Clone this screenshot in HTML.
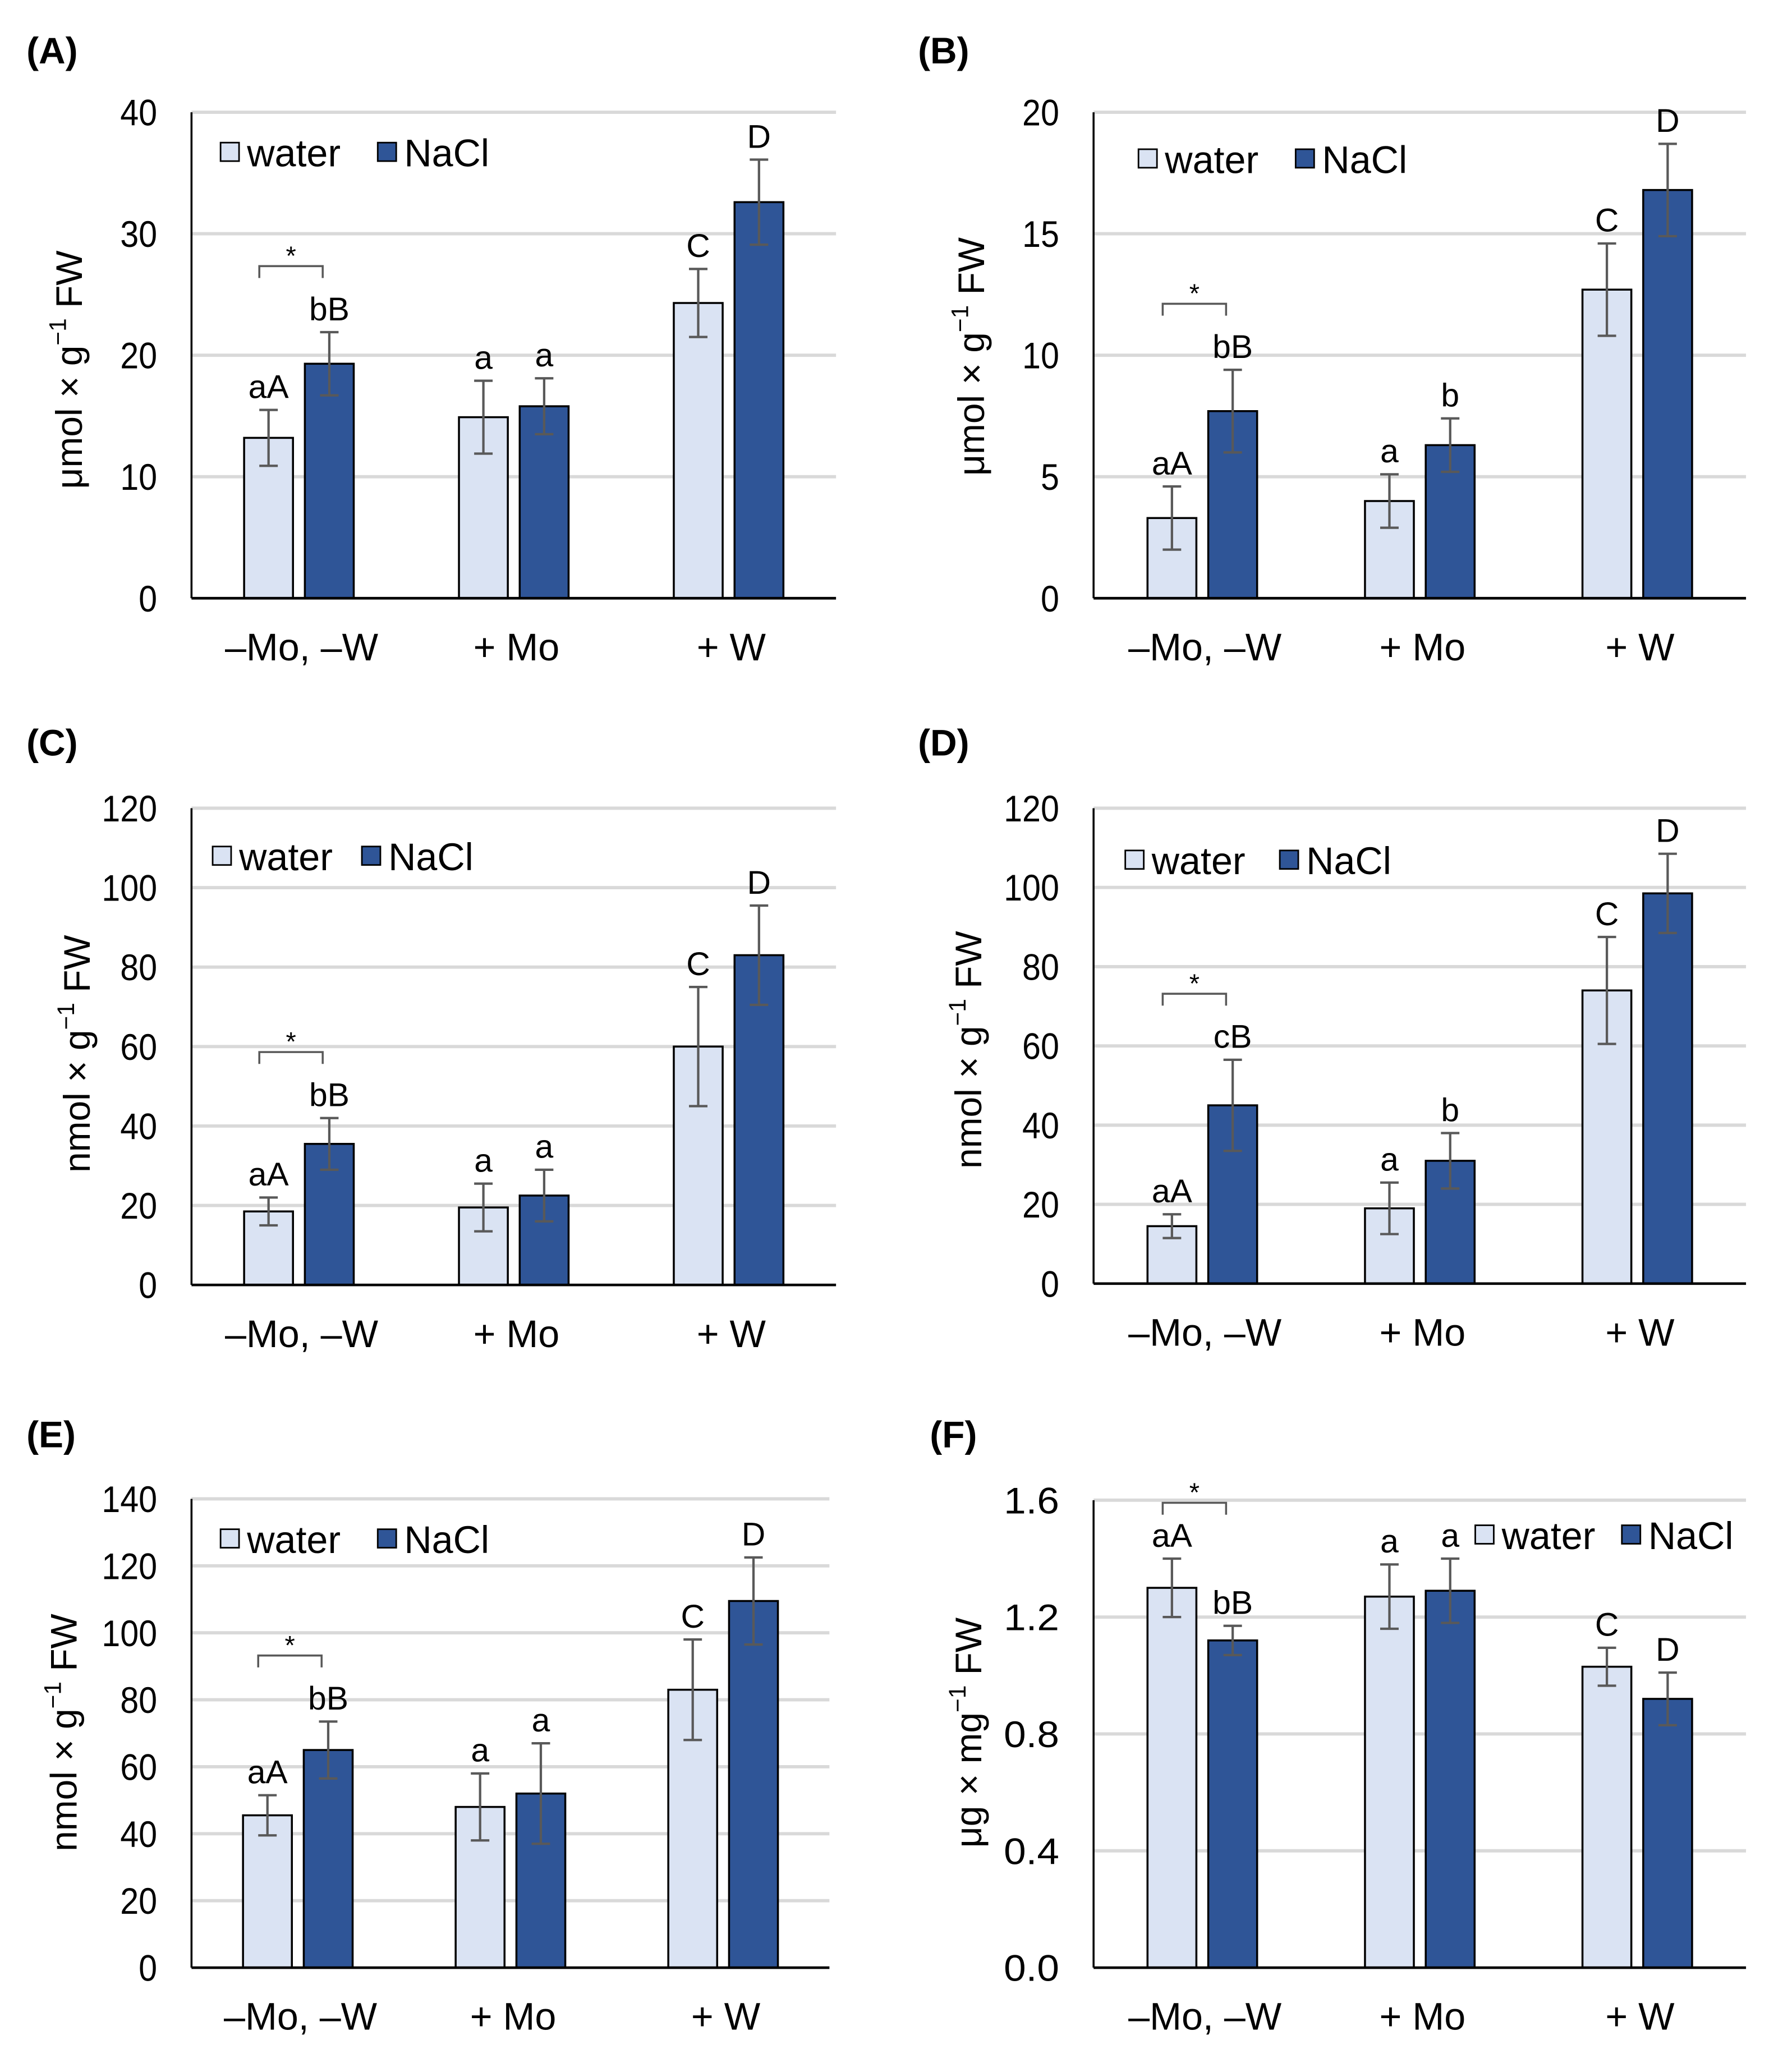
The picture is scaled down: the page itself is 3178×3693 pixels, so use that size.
<!DOCTYPE html>
<html><head><meta charset="utf-8"><style>
html,body{margin:0;padding:0;background:#fff}
svg{display:block}
text{font-family:"Liberation Sans",sans-serif;fill:#000}
</style></head><body>
<svg id="fig" width="3178" height="3693" viewBox="0 0 1350 1569" preserveAspectRatio="none" xmlns="http://www.w3.org/2000/svg"></svg>
<script>
const categories = ["\u2013Mo, \u2013W", "+ Mo", "+ W"];
const aWater = [13.2, 14.9, 24.3], aNaCl = [19.3, 15.8, 32.6];
const aWaterErr = [2.3, 3.0, 2.8], aNaClErr = [2.6, 2.3, 3.5];
const aWaterLbl = ["aA", "a", "C"], aNaClLbl = ["bB", "a", "D"];
const aTicks = [0, 10, 20, 30, 40];
const bWater = [3.3, 4.0, 12.7], bNaCl = [7.7, 6.3, 16.8];
const bWaterErr = [1.3, 1.1, 1.9], bNaClErr = [1.7, 1.1, 1.9];
const bWaterLbl = ["aA", "a", "C"], bNaClLbl = ["bB", "b", "D"];
const bTicks = [0, 5, 10, 15, 20];
const cWater = [18.5, 19.5, 60], cNaCl = [35.5, 22.5, 83];
const cWaterErr = [3.5, 6, 15], cNaClErr = [6.5, 6.5, 12.5];
const cWaterLbl = ["aA", "a", "C"], cNaClLbl = ["bB", "a", "D"];
const cTicks = [0, 20, 40, 60, 80, 100, 120];
const dWater = [14.5, 19, 74], dNaCl = [45, 31, 98.5];
const dWaterErr = [3, 6.5, 13.5], dNaClErr = [11.5, 7, 10];
const dWaterLbl = ["aA", "a", "C"], dNaClLbl = ["cB", "b", "D"];
const dTicks = [0, 20, 40, 60, 80, 100, 120];
const eWater = [45.5, 48, 83], eNaCl = [65, 52, 109.5];
const eWaterErr = [6, 10, 15], eNaClErr = [8.5, 15, 13];
const eWaterLbl = ["aA", "a", "C"], eNaClLbl = ["bB", "a", "D"];
const eTicks = [0, 20, 40, 60, 80, 100, 120, 140];
const fWater = [1.30, 1.27, 1.03], fNaCl = [1.12, 1.29, 0.92];
const fWaterErr = [0.10, 0.11, 0.065], fNaClErr = [0.05, 0.11, 0.09];
const fWaterLbl = ["aA", "a", "C"], fNaClLbl = ["bB", "a", "D"];
const fTicks = ["0.0", "0.4", "0.8", "1.2", "1.6"];

const NS = "http://www.w3.org/2000/svg";
const svg = document.getElementById("fig");
function mk(tag, attrs, parent, txt) {
  const e = document.createElementNS(NS, tag);
  for (const k in attrs) e.setAttribute(k, attrs[k]);
  if (txt !== undefined) e.textContent = txt;
  (parent || svg).appendChild(e);
  return e;
}
const panels = [
  {id:"a", label:"(A)", lx:20, ly:48, x0:145, x1:633, y0:453, y1:85, ticks:aTicks, w:aWater, n:aNaCl, we:aWaterErr, ne:aNaClErr, wl:aWaterLbl, nl:aNaClLbl, yt:"\u03bcmol \u00d7 g", yt2:" FW", ytx:52, yty:280, legX:167, legY:115, legN:286},
  {id:"b", label:"(B)", lx:695, ly:48, x0:828, x1:1322, y0:453, y1:85, ticks:bTicks, w:bWater, n:bNaCl, we:bWaterErr, ne:bNaClErr, wl:bWaterLbl, nl:bNaClLbl, yt:"\u03bcmol \u00d7 g", yt2:" FW", ytx:735, yty:270, legX:862, legY:120, legN:981},
  {id:"c", label:"(C)", lx:20, ly:572, x0:145, x1:633, y0:973, y1:612, ticks:cTicks, w:cWater, n:cNaCl, we:cWaterErr, ne:cNaClErr, wl:cWaterLbl, nl:cNaClLbl, yt:"nmol \u00d7 g", yt2:" FW", ytx:58, yty:798, legX:161, legY:648, legN:274},
  {id:"d", label:"(D)", lx:695, ly:572, x0:828, x1:1322, y0:972, y1:612, ticks:dTicks, w:dWater, n:dNaCl, we:dWaterErr, ne:dNaClErr, wl:dWaterLbl, nl:dNaClLbl, yt:"nmol \u00d7 g", yt2:" FW", ytx:733, yty:795, legX:852, legY:651, legN:969},
  {id:"e", label:"(E)", lx:20, ly:1096, x0:145, x1:628, y0:1490, y1:1135, ticks:eTicks, w:eWater, n:eNaCl, we:eWaterErr, ne:eNaClErr, wl:eWaterLbl, nl:eNaClLbl, yt:"nmol \u00d7 g", yt2:" FW", ytx:48, yty:1312, legX:167, legY:1165, legN:286},
  {id:"f", label:"(F)", lx:704, ly:1096, x0:828, x1:1322, y0:1490, y1:1136, ticks:fTicks, w:fWater, n:fNaCl, we:fWaterErr, ne:fNaClErr, wl:fWaterLbl, nl:fNaClLbl, yt:"\u03bcg \u00d7 mg", yt2:" FW", ytx:733, yty:1312, legX:1117, legY:1162, legN:1228}
];
panels.forEach(p => {
  const g = mk("g", {});
  
  
  const tnum = p.ticks.map(Number);
  const tmax = tnum[tnum.length - 1];
  const ys = v => p.y0 - (v / tmax) * (p.y0 - p.y1);
  const gw = (p.x1 - p.x0) / 3;
  const xc = i => p.x0 + gw * (i + 0.5);
  const bw = 37, off = 23;
  const pl = mk("text", {x:p.lx, y:p.ly, "font-size":28, "font-weight":"bold"}, g, p.label);
  
  
  p.ticks.forEach((t, i) => {
    const y = ys(tnum[i]);
    if (tnum[i] > 0) {
      const gl = mk("line", {x1:p.x0, x2:p.x1, y1:y, y2:y, stroke:"#d9d9d9", "stroke-width":2.5}, g);
      
      
    }
    const tl = mk("text", {x:p.x0 - 26, y:y + 10, "font-size":28, "text-anchor":"end", textLength:(String(t).length*14), lengthAdjust:"spacingAndGlyphs"}, g, String(t));
    
    
  });
  const ya = mk("line", {x1:p.x0, x2:p.x0, y1:p.y1, y2:p.y0, stroke:"#000", "stroke-width":1.5}, g);
  
  
  categories.forEach((c, i) => {
    const series = [[p.w, p.we, p.wl, -off, "#dae3f3", "water"], [p.n, p.ne, p.nl, off, "#2f5597", "nacl"]];
    series.forEach(s => {
      const v = s[0][i], e = s[1][i], cx = xc(i) + s[3];
      const r = mk("rect", {x:cx - bw/2, y:ys(v), width:bw, height:p.y0 - ys(v), fill:s[4], stroke:"#000", "stroke-width":1.5}, g);
      
      
      const eg = mk("g", {stroke:"#595959", "stroke-width":1.8}, g);
      
      
      mk("line", {x1:cx, x2:cx, y1:ys(v + e), y2:ys(v - e)}, eg);
      mk("line", {x1:cx - 7, x2:cx + 7, y1:ys(v + e), y2:ys(v + e)}, eg);
      mk("line", {x1:cx - 7, x2:cx + 7, y1:ys(v - e), y2:ys(v - e)}, eg);
      const lt = mk("text", {x:cx, y:ys(v + e) - 9, "font-size":25, "text-anchor":"middle"}, g, s[2][i]);
      
      
    });
    const xl = mk("text", {x:xc(i) + 2, y:p.y0 + 47, "font-size":29, "text-anchor":"middle"}, g, c);
    
    
  });
  const xa = mk("line", {x1:p.x0, x2:p.x1, y1:p.y0, y2:p.y0, stroke:"#000", "stroke-width":2}, g);
  
  
  const tn = ys(p.n[0] + p.ne[0]);
  const by = p.id === "f" ? p.y1 + 2 : tn - 50;
  const bx1 = xc(0) - off - 7, bx2 = xc(0) + off - 5;
  const br = mk("path", {d:`M${bx1},${by+9} V${by} H${bx2} V${by+9}`, fill:"none", stroke:"#595959", "stroke-width":1.5}, g);
  
  
  const st = mk("text", {x:(bx1 + bx2)/2, y:by - 1, "font-size":20, "text-anchor":"middle"}, g, "*");
  
  
  const lg = mk("g", {}, g);
  
  
  mk("rect", {x:p.legX, y:p.legY - 7, width:14, height:14, fill:"#dae3f3", stroke:"#000", "stroke-width":1.2}, lg);
  mk("text", {x:p.legX + 20, y:p.legY + 11, "font-size":29}, lg, "water");
  mk("rect", {x:p.legN, y:p.legY - 7, width:14, height:14, fill:"#2f5597", stroke:"#000", "stroke-width":1.2}, lg);
  mk("text", {x:p.legN + 20, y:p.legY + 11, "font-size":29}, lg, "NaCl");
  const yt = mk("text", {transform:`translate(${p.ytx + 10},${p.yty}) rotate(-90)`, "font-size":28, "text-anchor":"middle"}, g);
  
  
  mk("tspan", {}, yt, p.yt);
  mk("tspan", {dy:-12, "font-size":18}, yt, "\u22121");
  mk("tspan", {dy:12}, yt, p.yt2);
});
</script>
</body></html>
